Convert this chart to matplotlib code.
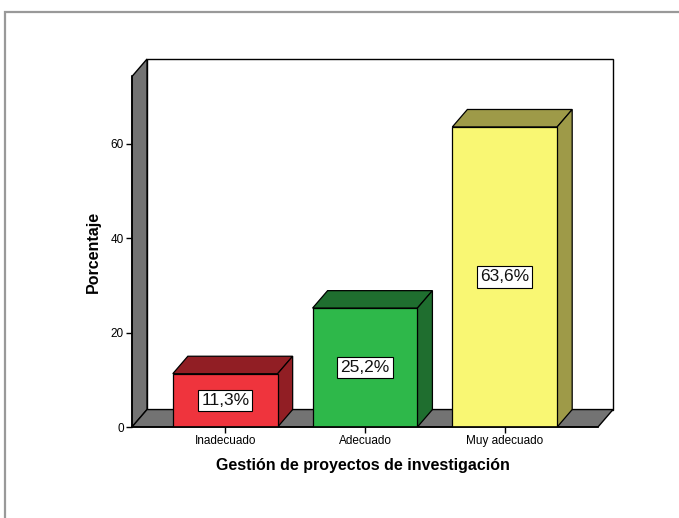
import matplotlib
matplotlib.use("Agg")
import matplotlib.pyplot as plt
from matplotlib.patches import Polygon, Rectangle

plt.rcParams['font.family'] = ['Liberation Sans', 'DejaVu Sans']

categorias = ["Inadecuado", "Adecuado", "Muy adecuado"]
porcentajes = [11.3, 25.2, 63.6]
etiquetas = ["11,3%", "25,2%", "63,6%"]
colores_frente = ["#EF343D", "#2EB84A", "#F9F773"]
colores_lado = ["#911E24", "#1F6E2F", "#9E9A48"]
yticks = [0, 20, 40, 60]

# geometria del "3D" estilo SPSS
ancho = 0.75
dx = 0.1075          # profundidad en unidades de categoria
dy = 3.7             # profundidad en unidades de porcentaje
x_izq, x_der = -0.667, 2.667
y_tope = 78.0
gris = "#737373"

fig = plt.figure(figsize=(6.79, 5.18), dpi=100)
ax = fig.add_axes([132 / 679, 91 / 518, 481 / 679, 368 / 518])
ax.set_xlim(x_izq, x_der + dx)
ax.set_ylim(0, y_tope)

# pared del fondo
ax.add_patch(Polygon([(x_izq + dx, dy), (x_der + dx, dy), (x_der + dx, y_tope),
                      (x_izq + dx, y_tope)], closed=True, facecolor="white",
                     edgecolor="black", lw=1.0, zorder=1, clip_on=False))
# pared izquierda
ax.add_patch(Polygon([(x_izq, 0), (x_izq + dx, dy), (x_izq + dx, y_tope),
                      (x_izq, y_tope - dy)], closed=True, facecolor=gris,
                     edgecolor="black", lw=1.0, zorder=1, clip_on=False))
# piso
ax.add_patch(Polygon([(x_izq, 0), (x_der, 0), (x_der + dx, dy), (x_izq + dx, dy)],
                     closed=True, facecolor=gris, edgecolor="black", lw=1.0, zorder=1,
                     clip_on=False))

for i, v in enumerate(porcentajes):
    a, b = i - ancho / 2, i + ancho / 2
    # cara superior
    ax.add_patch(Polygon([(a, v), (b, v), (b + dx, v + dy), (a + dx, v + dy)],
                         closed=True, facecolor=colores_lado[i], edgecolor="black",
                         lw=0.9, zorder=3))
    # cara lateral
    ax.add_patch(Polygon([(b, 0), (b + dx, dy), (b + dx, v + dy), (b, v)],
                         closed=True, facecolor=colores_lado[i], edgecolor="black",
                         lw=0.9, zorder=3))
    # cara frontal
    ax.add_patch(Rectangle((a, 0), ancho, v, facecolor=colores_frente[i],
                           edgecolor="black", lw=0.9, zorder=4))
    ax.text(i, v / 2, etiquetas[i], ha="center", va="center", fontsize=12.5, zorder=5,
            color="#111111",
            bbox=dict(boxstyle="square,pad=0.18", facecolor="white",
                      edgecolor="black", lw=0.8))

for s in ["top", "right"]:
    ax.spines[s].set_visible(False)
ax.spines["left"].set_bounds(0, y_tope - dy)
ax.spines["bottom"].set_bounds(x_izq, x_der)
ax.spines["left"].set_linewidth(1.2)
ax.spines["bottom"].set_linewidth(1.2)
ax.spines["left"].set_zorder(6)
ax.spines["bottom"].set_zorder(6)

ax.set_yticks(yticks)
ax.set_xticks(range(len(categorias)))
ax.set_xticklabels(categorias)
ax.tick_params(axis="both", labelsize=8.5, length=4, width=1, direction="out", pad=2)

ax.set_ylabel("Porcentaje", fontsize=11.5, fontweight="bold")
ax.yaxis.set_label_coords(-0.064, 0.476)
ax.set_xlabel("Gestión de proyectos de investigación", fontsize=11.5, fontweight="bold")
ax.xaxis.set_label_coords(0.48, -0.085)

# marco exterior gris
fig.add_artist(Rectangle((5 / 679, -1), 2, 1 - 12 / 518 + 1, transform=fig.transFigure,
                         fill=False, edgecolor="#999999", lw=1.6))

fig.savefig("out.png", dpi=100)
